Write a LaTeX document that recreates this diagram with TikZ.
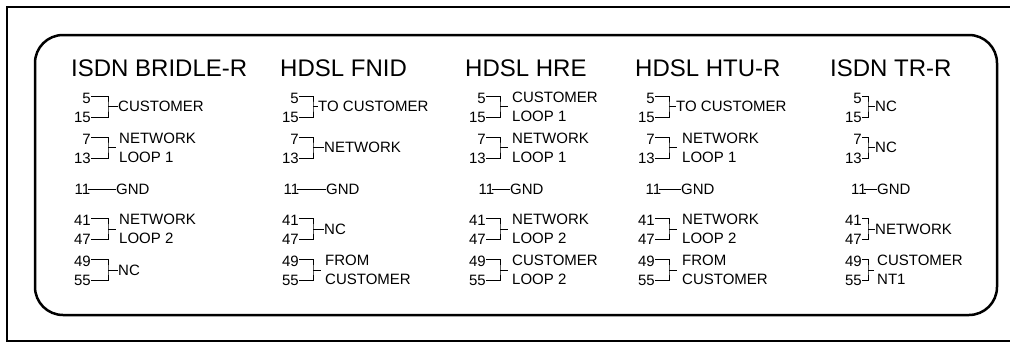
\documentclass[tikz,border=0pt]{standalone}
\usepackage{fontspec}
\setmainfont{Liberation Sans}
\tikzset{
  num/.style={inner sep=0pt, font=\fontsize{15}{17}\selectfont},
  lab/.style={inner ysep=0pt, align=left, font=\fontsize{15}{19}\selectfont},
  ttl/.style={inner sep=0pt, anchor=west, font=\fontsize{24}{28}\selectfont},
  wire/.style={line width=1pt},
  frameline/.style={line width=2pt},
  panel/.style={line width=2.5pt, rounded corners=28pt},
}
% #1 name, #2 number east x, #3 bracket x, #4 label text x, #5 middle y,
% #6 top number, #7 bottom number, #8 label, #9 gap between stub and text
\newcommand\pinpair[9]{%
  \node[num, anchor=east] (#1t) at (#2, #5-8.5) {#6};
  \node[num, anchor=east] (#1b) at (#2, #5+10.5) {#7};
  \node[lab, anchor=west, inner xsep=#9pt] (#1l) at (#4-#9, #5) {#8};
  \coordinate (#1j) at (#3, #5);
  \draw[wire] ([yshift=2pt]#1t.east) -| (#1j) |- (#1b.east);
  \draw[wire] (#1j) -- (#1l.west);
}
% #1 name, #2 number east x, #3 label text x
\newcommand\gndpin[3]{%
  \node[num, anchor=east] (#1n) at (#2, 189) {11};
  \node[lab, anchor=west, inner xsep=0.5pt] (#1l) at (#3-0.5, 189) {GND};
  \draw[wire] ([xshift=-2.6pt]#1n.east) -- (#1l.west);
}
\begin{document}
\begin{tikzpicture}[x=1pt, y=-1pt]
\useasboundingbox (0,0) rectangle (1010,343);
\draw[frameline] (1011,7) -- (7,7) -- (7,341) -- (1011,341);
\draw[panel] (35,35) rectangle (997,315);

% titles
\node[ttl] (t1) at (71,68) {ISDN BRIDLE-R};
\node[ttl] (t2) at (280,68) {HDSL FNID};
\node[ttl] (t3) at (465,68) {HDSL HRE};
\node[ttl] (t4) at (635,68) {HDSL HTU-R};
\node[ttl] (t5) at (830,68) {ISDN TR-R};

% column 1
\pinpair{aA}{91}{108}{118}{106.5}{5}{15}{CUSTOMER}{0.5}
\pinpair{aB}{91}{108}{119}{147.5}{7}{13}{NETWORK\\LOOP 1}{3}
\gndpin{aC}{90.5}{116}
\pinpair{aD}{91}{108}{119}{229}{41}{47}{NETWORK\\LOOP 2}{3}
\pinpair{aE}{91}{108}{118}{270}{49}{55}{NC}{0.5}

% column 2
\pinpair{bA}{299}{313}{318}{106.5}{5}{15}{TO CUSTOMER}{0.5}
\pinpair{bB}{299}{313}{324}{147.5}{7}{13}{NETWORK}{0.5}
\gndpin{bC}{299.5}{326}
\pinpair{bD}{299}{313}{324}{229}{41}{47}{NC}{0.5}
\pinpair{bE}{299}{313}{325}{270}{49}{55}{FROM\\CUSTOMER}{4}

% column 3
\pinpair{cA}{486}{500}{512}{106.5}{5}{15}{CUSTOMER\\LOOP 1}{4}
\pinpair{cB}{486}{500}{512}{147.5}{7}{13}{NETWORK\\LOOP 1}{4}
\gndpin{cC}{494.5}{510}
\pinpair{cD}{486}{500}{512}{229}{41}{47}{NETWORK\\LOOP 2}{4}
\pinpair{cE}{486}{500}{512}{270}{49}{55}{CUSTOMER\\LOOP 2}{4}

% column 4
\pinpair{dA}{655}{669}{676}{106.5}{5}{15}{TO CUSTOMER}{0.5}
\pinpair{dB}{655}{669}{682}{147.5}{7}{13}{NETWORK\\LOOP 1}{5}
\gndpin{dC}{661.5}{681}
\pinpair{dD}{655}{669}{682}{229}{41}{47}{NETWORK\\LOOP 2}{5}
\pinpair{dE}{655}{669}{682}{270}{49}{55}{FROM\\CUSTOMER}{5}

% column 5
\pinpair{eA}{862}{868}{875}{106.5}{5}{15}{NC}{0.5}
\pinpair{eB}{862}{868}{875}{147.5}{7}{13}{NC}{0.5}
\gndpin{eC}{867}{877}
\pinpair{eD}{862}{868}{875}{229}{41}{47}{NETWORK}{0.5}
\pinpair{eE}{862}{868}{877}{270}{49}{55}{CUSTOMER\\NT1}{3}
\end{tikzpicture}
\end{document}
